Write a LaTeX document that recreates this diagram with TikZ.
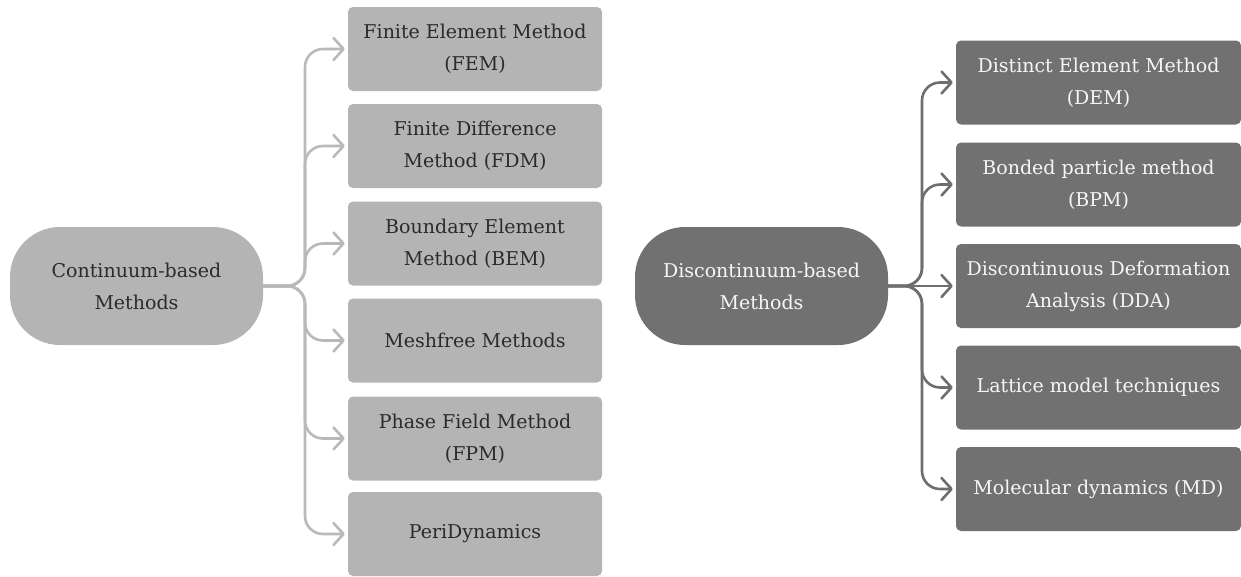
\documentclass[tikz,border=0pt]{standalone}
\usepackage{fontspec}
\setmainfont{DejaVu Serif}
\usepackage{tikz}
\usetikzlibrary{positioning, arrows.meta}

\definecolor{lightfill}{HTML}{B4B4B4}
\definecolor{lightline}{HTML}{B9B9B9}
\definecolor{darkfill}{HTML}{717171}
\definecolor{darkline}{HTML}{6E6E6E}
\definecolor{darktext}{HTML}{2B2B2B}
\definecolor{palefont}{HTML}{F6F6F6}

\begin{document}
\begin{tikzpicture}[x=1pt, y=-1pt, font=\fontsize{19}{32}\selectfont,
    rootnode/.style={rectangle, rounded corners=50pt, minimum width=253pt, minimum height=118pt, align=center, inner sep=0pt},
    methodbox/.style={rectangle, rounded corners=5pt, minimum height=84pt, align=center, inner sep=0pt},
    lbox/.style={methodbox, fill=lightfill, text=darktext, minimum width=254pt},
    rbox/.style={methodbox, fill=darkfill, text=palefont, minimum width=285pt},
    conn/.style={line width=2.6pt, rounded corners=18pt, -{Straight Barb[length=10pt,width=22pt,round]}, shorten >=3pt},
    lconn/.style={conn, draw=lightline},
    rconn/.style={conn, draw=darkline}]

    \useasboundingbox (0,0) rectangle (1241,576);

    % continuum side
    \node[rootnode, fill=lightfill, text=darktext] (cont) at (136.5,286) {Continuum-based\\Methods};

    \node[lbox] (fem)  at (475,49)    {Finite Element Method\\(FEM)};
    \node[lbox] (fdm)  at (475,146)   {Finite Difference\\Method (FDM)};
    \node[lbox] (bem)  at (475,243.5) {Boundary Element\\Method (BEM)};
    \node[lbox] (mesh) at (475,340.5) {Meshfree Methods};
    \node[lbox] (pfm)  at (475,438.5) {Phase Field Method\\(FPM)};
    \node[lbox] (peri) at (475,534)   {PeriDynamics};

    \coordinate (lsplit) at (305,286);
    \foreach \child in {fem, fdm, bem, mesh, pfm, peri}
        \draw[lconn] (cont.east) -- (lsplit) |- (\child.west);

    % discontinuum side
    \node[rootnode, fill=darkfill, text=palefont] (disc) at (761.5,286) {Discontinuum-based\\Methods};

    \node[rbox] (dem) at (1098.5,82.5)  {Distinct Element Method\\(DEM)};
    \node[rbox] (bpm) at (1098.5,184.5) {Bonded particle method\\(BPM)};
    \node[rbox] (dda) at (1098.5,286)   {Discontinuous Deformation\\Analysis (DDA)};
    \node[rbox] (lat) at (1098.5,387.5) {Lattice model techniques};
    \node[rbox] (md)  at (1098.5,489)   {Molecular dynamics (MD)};

    \coordinate (rsplit) at (922,286);
    \foreach \child in {dem, bpm, lat, md}
        \draw[rconn] (disc.east) -- (rsplit) |- (\child.west);
    \draw[rconn] (disc.east) -- (dda.west);

\end{tikzpicture}
\end{document}
